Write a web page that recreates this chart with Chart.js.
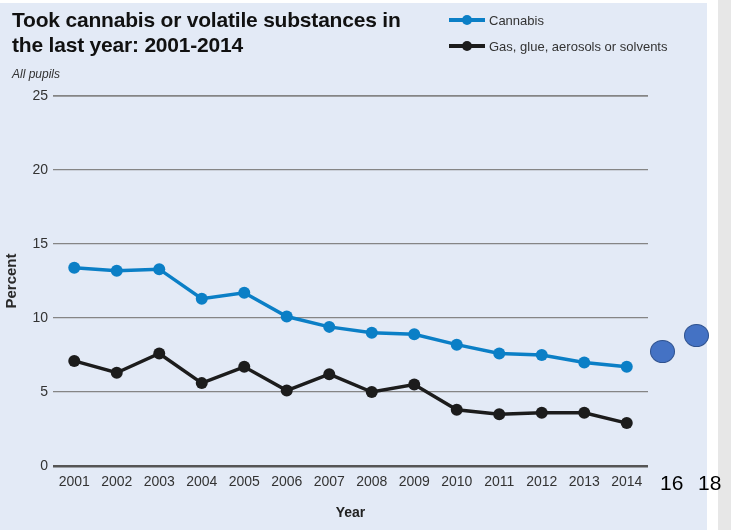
<!DOCTYPE html>
<html>
<head>
<meta charset="utf-8">
<script src="https://cdn.jsdelivr.net/npm/chart.js@4.4.1/dist/chart.umd.min.js"></script>
<style>
  body { margin: 0; width: 731px; height: 530px; background: #e7e7e7; position: relative; overflow: hidden;
         font-family: "Liberation Sans", Arial, sans-serif; }
  #sheet { position: absolute; left: 0; top: 0; width: 718px; height: 530px; background: #ffffff; }
  #panel { position: absolute; left: 0; top: 3px; width: 707px; height: 527px; background: #e3eaf6; }
  #myChart { position: absolute; left: 0; top: 0; }
  #title { position: absolute; left: 12px; top: 7px; font: bold 21px "Liberation Sans", Arial, sans-serif;
           line-height: 25px; color: #111; letter-spacing: -0.2px; }
  #sub { position: absolute; left: 12px; top: 67px; font: italic 12px "Liberation Sans", Arial, sans-serif; color: #333; }
  #legend { position: absolute; left: 449px; top: 7px; font: 13px "Liberation Sans", Arial, sans-serif; color: #333; }
  .item { height: 26px; display: flex; align-items: center; }
  .key { position: relative; width: 36px; height: 4px; margin-right: 4px; }
  .key i { position: absolute; left: 13px; top: -3px; width: 10px; height: 10px; border-radius: 50%; }
  .num { position: absolute; top: 471px; font: 21px "Liberation Sans", Arial, sans-serif; color: #000; }
  .dot { position: absolute; width: 25px; height: 23px; border-radius: 50%; background: #4472c4;
         border: 1.5px solid #2f528f; box-sizing: border-box; }
</style>
</head>
<body>
<div id="sheet"></div>
<div id="panel"></div>
<canvas id="myChart" width="707" height="530"></canvas>
<div id="title">Took cannabis or volatile substances in<br>the last year: 2001-2014</div>
<div id="sub">All pupils</div>
<div id="legend"></div>
<div class="dot" style="left:650px; top:340px;"></div>
<div class="dot" style="left:684px; top:324px;"></div>
<div class="num" style="left:660px;">16</div>
<div class="num" style="left:698px;">18</div>

<script>
const years = ['2001', '2002', '2003', '2004', '2005', '2006', '2007',
               '2008', '2009', '2010', '2011', '2012', '2013', '2014']
const cannabis = [13.4, 13.2, 13.3, 11.3, 11.7, 10.1, 9.4, 9.0, 8.9, 8.2, 7.6, 7.5, 7.0, 6.7]
const volatiles = [7.1, 6.3, 7.6, 5.6, 6.7, 5.1, 6.2, 5.0, 5.5, 3.8, 3.5, 3.6, 3.6, 2.9]
const seriesNames = ['Cannabis', 'Gas, glue, aerosols or solvents']
const seriesColors = ['#0b7fc6', '#1c1c1c']
const yTicks = [0, 5, 10, 15, 20, 25]

const tickFont = { family: 'Liberation Sans', size: 14 }

function makeSet(i, values){
    return {
        label: seriesNames[i],
        data: values,
        borderColor: seriesColors[i],
        backgroundColor: seriesColors[i],
        borderWidth: 3.5,
        pointRadius: 6,
        pointBorderWidth: 0,
        pointBackgroundColor: seriesColors[i],
        tension: 0
    }
}

const chart = new Chart('myChart', {
    type: 'line',
    data: {
        labels: years,
        datasets: [makeSet(0, cannabis), makeSet(1, volatiles)]
    },
    options: {
        responsive: false,
        animation: false,
        layout: { padding: { top: 96, right: 59, bottom: 0, left: 0 } },
        plugins: { legend: { display: false }, tooltip: { enabled: false } },
        scales: {
            x: {
                offset: true,
                grid: { display: false },
                border: { display: false },
                ticks: { font: tickFont, color: '#333', padding: 0, maxRotation: 0, autoSkip: false },
                title: { display: true, text: 'Year', color: '#222',
                         font: { family: 'Liberation Sans', size: 14, weight: 'bold' },
                         padding: { top: 4, bottom: 8 } },
                afterFit(scale){ scale.height = 64 }
            },
            y: {
                min: yTicks[0],
                max: yTicks[yTicks.length - 1],
                afterBuildTicks(scale){ scale.ticks = yTicks.map(v => ({ value: v })) },
                grid: {
                    drawTicks: false,
                    color: ctx => ctx.tick.value === 0 ? '#555' : '#858585',
                    lineWidth: ctx => ctx.tick.value === 0 ? 2.4 : (ctx.tick.value === 25 ? 1.8 : 1.2)
                },
                border: { display: false },
                ticks: { font: tickFont, color: '#333', padding: 5 },
                title: { display: true, text: 'Percent', color: '#2a2a2a',
                         font: { family: 'Liberation Sans', size: 15, weight: 'bold' },
                         padding: { top: 3, bottom: 0 } },
                afterFit(scale){ scale.width = 53 }
            }
        }
    }
})

// legend drawn as html from the datasets
const legend = document.getElementById('legend')
chart.data.datasets.forEach(ds => {
    const row = document.createElement('div')
    row.className = 'item'
    row.innerHTML = '<span class="key" style="background:' + ds.borderColor + '"><i style="background:' +
        ds.borderColor + '"></i></span>' + ds.label
    legend.append(row)
})
</script>
</body>
</html>
